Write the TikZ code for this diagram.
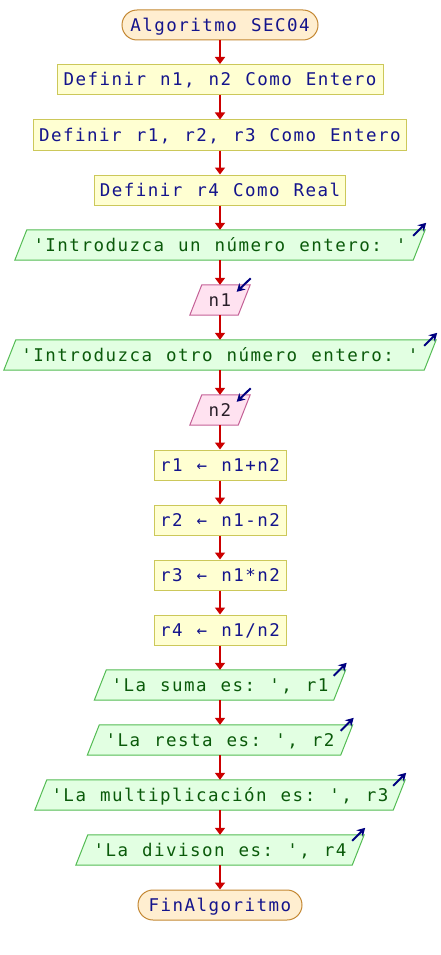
\documentclass[tikz,border=0pt]{standalone}
\usepackage{fontspec}
\setmonofont{DejaVu Sans Mono}[LetterSpace=8.4, WordSpace={1.17,0,0}]
\usetikzlibrary{arrows.meta,backgrounds}
\definecolor{termfill}{RGB}{255,238,208}
\definecolor{termline}{RGB}{196,136,52}
\definecolor{procfill}{RGB}{255,255,210}
\definecolor{procline}{RGB}{204,200,90}
\definecolor{outfill}{RGB}{226,255,226}
\definecolor{outline}{RGB}{84,188,84}
\definecolor{inpfill}{RGB}{255,226,240}
\definecolor{inpline}{RGB}{196,96,150}
\definecolor{bluetext}{RGB}{20,20,140}
\definecolor{greentext}{RGB}{10,90,10}
\definecolor{inptext}{RGB}{40,30,40}
\definecolor{flowred}{RGB}{204,0,0}
\definecolor{navy}{RGB}{0,0,128}
\newcommand\drawpara[2]{%
  \begin{pgfonlayer}{background}
    \filldraw[#2] ([xshift=-6pt]#1.south west) -- ([xshift=-6pt]#1.south east)
      -- ([xshift=6pt]#1.north east) -- ([xshift=6pt]#1.north west) -- cycle;
  \end{pgfonlayer}}
\newcommand\outmark[1]{\draw[markarrow] ([shift={(-6pt,-6pt)}]#1.north east) -- ([shift={(7pt,7pt)}]#1.north east);}
\newcommand\inmark[1]{\draw[markarrow] ([shift={(6.5pt,6.5pt)}]#1.north east) -- ([shift={(-7.5pt,-7pt)}]#1.north east);}
\begin{document}
\begin{tikzpicture}[x=1pt,y=1pt,
  base/.style={minimum height=30pt, inner sep=0pt, text height=16pt, text depth=3pt,
    font=\ttfamily\fontsize{17.5}{20}\selectfont},
  term/.style={base, draw=termline, fill=termfill, rounded corners=15pt, line width=1pt, text=bluetext},
  proc/.style={base, draw=procline, fill=procfill, line width=1pt, text=bluetext},
  outp/.style={base, text=greentext},
  inp/.style={base, text=inptext},
  outshape/.style={draw=outline, fill=outfill, line width=1pt},
  inshape/.style={draw=inpline, fill=inpfill, line width=1pt},
  flow/.style={draw=flowred, line width=2pt, -{Triangle[length=7pt,width=10pt]}},
  markarrow/.style={draw=navy, line width=2pt, -{Stealth[length=8pt,width=9pt]}}
]
\useasboundingbox (0,0) rectangle (440,-955);
\node[term, minimum width=196pt] (start) at (220,-25) {Algoritmo SEC04};
\node[proc, minimum width=326pt] (d1) at (220,-79.5) {Definir n1, n2 Como Entero};
\node[proc, minimum width=373pt] (d2) at (220,-135) {Definir r1, r2, r3 Como Entero};
\node[proc, minimum width=251pt] (d3) at (220,-190) {Definir r4 Como Real};
\node[outp, minimum width=398pt] (o1) at (220,-245) {'Introduzca un número entero: '};
\node[inp, minimum width=48pt] (i1) at (220,-300) {n1};
\node[outp, minimum width=420pt] (o2) at (220,-355) {'Introduzca otro número entero: '};
\node[inp, minimum width=48pt] (i2) at (220,-410) {n2};
\node[proc, minimum width=132pt] (a1) at (220,-465) {r1 ← n1+n2};
\node[proc, minimum width=132pt] (a2) at (220,-520) {r2 ← n1-n2};
\node[proc, minimum width=132pt] (a3) at (220,-575) {r3 ← n1*n2};
\node[proc, minimum width=132pt] (a4) at (220,-630) {r4 ← n1/n2};
\node[outp, minimum width=239pt] (o3) at (220,-685) {'La suma es: ', r1};
\node[outp, minimum width=253pt] (o4) at (220,-740) {'La resta es: ', r2};
\node[outp, minimum width=358pt] (o5) at (220,-795) {'La multiplicación es: ', r3};
\node[outp, minimum width=276pt] (o6) at (220,-850) {'La divison es: ', r4};
\node[term, minimum width=164pt] (fin) at (220,-905) {FinAlgoritmo};
\foreach \n in {o1,o2,o3,o4,o5,o6} {\drawpara{\n}{outshape}\outmark{\n}}
\foreach \n in {i1,i2} {\drawpara{\n}{inshape}\inmark{\n}}
\foreach \a/\b in {start/d1,d1/d2,d2/d3,d3/o1,o1/i1,i1/o2,o2/i2,i2/a1,a1/a2,a2/a3,a3/a4,a4/o3,o3/o4,o4/o5,o5/o6,o6/fin}
  \draw[flow] (\a.south) -- (\b.north);
\end{tikzpicture}
\end{document}
